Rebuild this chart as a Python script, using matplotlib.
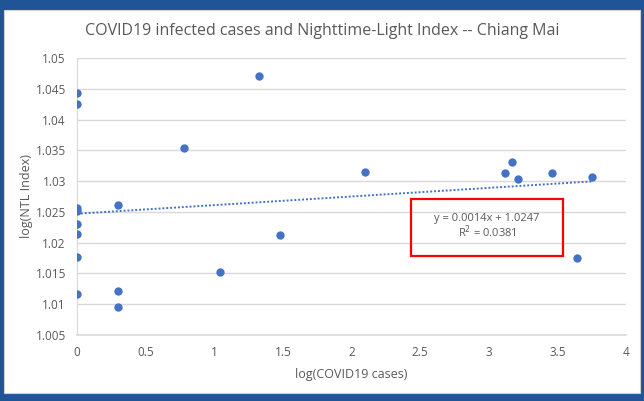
import matplotlib.pyplot as plt
from matplotlib.patches import Rectangle

# data
log_cases = [0, 0, 0, 0, 0, 0, 0, 0,
             0.301, 0.301, 0.301,
             0.778, 1.041, 1.326, 1.477, 2.097,
             3.115, 3.170, 3.215, 3.463, 3.645, 3.750]
log_ntl = [1.0443, 1.0425, 1.0256, 1.0252, 1.0231, 1.0214, 1.0176, 1.0116,
           1.0262, 1.0121, 1.0095,
           1.0354, 1.0152, 1.0470, 1.0212, 1.0315,
           1.0313, 1.0331, 1.0303, 1.0313, 1.0175, 1.0307]
slope = 0.0014
intercept = 1.0247
r2 = 0.0381

grey = "#595959"
blue = "#4472C4"

fig = plt.figure(figsize=(6.44, 4.01), dpi=100)
fig.patch.set_facecolor("#1F5597")
# white chart area inside the blue frame
fig.patches.append(Rectangle((4 / 644, 8 / 401), 636 / 644, 383 / 401,
                             transform=fig.transFigure, facecolor="white",
                             edgecolor="#D0D0D0", linewidth=0.8, zorder=-5))

ax = fig.add_axes([77 / 644, 1 - 335 / 401, 549 / 644, 277 / 401])
ax.set_facecolor("white")

ax.scatter(log_cases, log_ntl, s=36, color=blue, zorder=3, linewidths=0)

xs = [0, max(log_cases)]
ax.plot(xs, [slope * x + intercept for x in xs], color=blue,
        linestyle=(0, (1, 1)), linewidth=1.4, zorder=2)

ax.set_xlim(0, 4)
ax.set_ylim(1.005, 1.05)
ax.set_xticks([0, 0.5, 1, 1.5, 2, 2.5, 3, 3.5, 4])
ax.set_xticklabels(["0", "0.5", "1", "1.5", "2", "2.5", "3", "3.5", "4"])
ax.set_yticks([1.005, 1.01, 1.015, 1.02, 1.025, 1.03, 1.035, 1.04, 1.045, 1.05])
ax.set_yticklabels(["1.005", "1.01", "1.015", "1.02", "1.025", "1.03",
                    "1.035", "1.04", "1.045", "1.05"])
ax.grid(axis="y", color="#D9D9D9", linewidth=1)
ax.set_axisbelow(True)
for s in ["top", "right"]:
    ax.spines[s].set_visible(False)
ax.spines["left"].set_color("#D9D9D9")
ax.spines["bottom"].set_color("#D9D9D9")
ax.spines["bottom"].set_linewidth(1.2)
ax.tick_params(length=0, colors=grey, labelsize=8.5, pad=8)
for lab in ax.get_xticklabels() + ax.get_yticklabels():
    lab.set_family("Open Sans")

ax.set_xlabel("log(COVID19 cases)", color=grey, fontsize=9, family="Open Sans")
ax.set_ylabel("log(NTL Index)", color=grey, fontsize=9, family="Open Sans")
ax.xaxis.set_label_coords(0.5, -0.119)
ax.yaxis.set_label_coords(-0.08, 0.5)

fig.text(322 / 644, 1 - 31 / 401,
         "COVID19 infected cases and Nighttime-Light Index -- Chiang Mai",
         ha="center", va="center", fontsize=11.5, color=grey, family="Open Sans")

# equation box
fig.patches.append(Rectangle((411 / 644, 1 - 256 / 401), 152 / 644, 57 / 401,
                             transform=fig.transFigure, facecolor="none",
                             edgecolor="red", linewidth=1.6, zorder=5))
fig.text(487 / 644, 1 - 218 / 401, f"y = {slope}x + {intercept}",
         ha="center", va="center", fontsize=8, color=grey, family="Open Sans", zorder=6)
fig.text(487 / 644, 1 - 232 / 401, f"R$^2$ = {r2}",
         ha="center", va="center", fontsize=8, color=grey, family="Open Sans", zorder=6)

fig.savefig("out.png", dpi=100, facecolor=fig.get_facecolor())
